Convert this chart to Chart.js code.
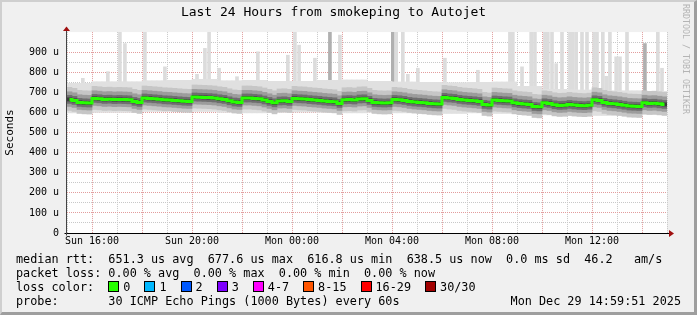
<!DOCTYPE html>
<html>
<head>
<meta charset="utf-8">
<script src="https://cdn.jsdelivr.net/npm/chart.js@4.4.1/dist/chart.umd.min.js"></script>
<style>
  body { margin: 0; background: #fff; }
  #wrap { position: relative; width: 697px; height: 315px; overflow: hidden; }
  #frame { position: absolute; left: 0; top: 0; width: 697px; height: 315px; box-sizing: border-box;
           background: #f0f0f0; border-style: solid; border-width: 2px 3px 3px 2px;
           border-color: #cfcfcf #9e9e9e #9e9e9e #cfcfcf; }
  canvas { position: absolute; left: 0; top: 0; }
  #legend { position: absolute; left: 16px; top: 252px; right: 16px; font: 11.8px "DejaVu Sans Mono", monospace;
            line-height: 14px; color: #000; white-space: pre; }
  #legend .row { position: relative; height: 14px; }
  #legend .right { position: absolute; right: 0; top: 0; }
  .box { display: inline-block; width: 11px; height: 11px; box-sizing: border-box; border: 1px solid #000;
         vertical-align: -1px; margin-right: 4px; }
  .item { margin-right: 14px; }
  #stamp { position: absolute; left: 681px; top: 4px; writing-mode: vertical-rl; font: 8.3px "DejaVu Sans Mono", monospace;
           color: #b4b4b4; line-height: 10px; white-space: nowrap; }
</style>
</head>
<body>
<div id="wrap">
  <div id="frame"></div>
  <canvas id="c" width="697" height="315"></canvas>
  <div id="stamp">RRDTOOL / TOBI OETIKER</div>
  <div id="legend"></div>
</div>
<script>
// x values are minutes after Sun 15:00, one median sample every 12 minutes
const xTickMinutes = [60, 300, 540, 780, 1020, 1260];
const xTickLabels = ['Sun 16:00', 'Sun 20:00', 'Mon 00:00', 'Mon 04:00', 'Mon 08:00', 'Mon 12:00'];
const yTickValues = [0, 100, 200, 300, 400, 500, 600, 700, 800, 900];
const yTickLabels = ['0', '100 u', '200 u', '300 u', '400 u', '500 u', '600 u', '700 u', '800 u', '900 u'];

// median rtt in microseconds
const median = [
  665, 660, 650, 648, 647,
  670, 668, 665, 666, 664, 665, 664, 663, 655, 650,
  672, 670, 668, 666, 663, 662, 660, 658, 656, 655,
  677, 676, 675, 674, 672, 668, 665, 658, 652, 650,
  672, 672, 670, 668, 662, 655, 648, 657, 658, 655,
  670, 668, 667, 664, 662, 660, 657, 655, 653, 645,
  663, 664, 662, 667, 668, 660, 650, 648, 647, 648,
  665, 663, 660, 655, 652, 650, 648, 645, 643, 642,
  675, 672, 670, 665, 662, 660, 658, 655, 640, 637,
  662, 660, 658, 657, 648, 644, 642, 640, 630, 628,
  648, 645, 638, 635, 636, 640, 637, 635, 634, 636,
  663, 660, 650, 645, 643, 640, 636, 632, 631, 630,
  648, 645, 646, 643, 640
];

// faint outer smoke, one value per hour
const outerTop = [745, 753, 753, 758, 760, 765, 758, 760, 755, 755, 760, 762,
                  755, 752, 750, 748, 750, 752, 730, 715, 712, 708, 708, 705];
const outerBottom = [598, 600, 600, 605, 608, 605, 600, 598, 600, 602, 600, 598,
                     600, 598, 595, 595, 598, 595, 590, 588, 585, 585, 585, 590];

// darker smoke layers around the median (below / above, us)
const layerDown = [55, 35, 20, 8];
const layerUp = [60, 38, 20, 8];
const layerColors = ['#c6c6c6', '#9c9c9c', '#6e6e6e', '#3a3a3a'];

// single ping outliers
const spikeMinutes = [38, 98, 127, 139, 187, 235, 312, 331, 341, 365, 408, 458, 530, 547, 557,
  595, 631, 655, 782, 790, 806, 818, 842, 907, 986, 1063, 1070, 1092, 1114, 1123,
  1147, 1154, 1164, 1174, 1188, 1207, 1214, 1222, 1236, 1248, 1265, 1272, 1286, 1294, 1303,
  1318, 1327, 1344, 1387, 1418, 1428];
const spikeTops = [770, 803, 1000, 943, 1000, 827, 790, 919, 1000, 820, 778, 902, 885, 1000, 935,
  870, 1000, 985, 1000, 1000, 1000, 790, 820, 870, 810, 1000, 1000, 827, 1000, 1000,
  1000, 1000, 1000, 843, 1000, 1000, 1000, 1000, 1000, 1000, 1000, 1000, 1000, 780, 1000,
  877, 877, 1000, 943, 1000, 820];
const spikeDark = [0, 0, 0, 0, 0, 0, 0, 0, 0, 0, 0, 0, 0, 0, 0,
  0, 1, 0, 1, 0, 0, 0, 0, 0, 0, 0, 0, 0, 0, 0,
  0, 0, 0, 0, 0, 0, 0, 0, 0, 0, 0, 0, 0, 0, 0,
  0, 0, 0, 1, 0, 0];

const lossLabels = ['0', '1', '2', '3', '4-7', '8-15', '16-29', '30/30'];
const lossColors = ['#26ff00', '#00b8ff', '#0059ff', '#7e00ff', '#ff00ff', '#ff5500', '#ff0000', '#a10000'];

const STEP = 12;
const mono = 'DejaVu Sans Mono';
const RED = '#e29c9c';
const GRAY = '#c8c8c8';

const datasets = [];

datasets.push({
  type: 'line', label: 'median', order: 0,
  data: median.map((v, i) => ({ x: i * STEP + STEP / 2, y: v })),
  borderColor: lossColors[0], borderWidth: 3, pointRadius: 0, stepped: 'middle', fill: false
});

layerDown.forEach((d, k) => {
  datasets.push({
    type: 'bar', label: 'smoke' + k, order: 6 - k, grouped: false,
    data: median.map((v, i) => ({ x: i * STEP + STEP / 2, y: [v - d, v + layerUp[k]] })),
    backgroundColor: layerColors[k], barThickness: 5, borderWidth: 0
  });
});

datasets.push({
  type: 'bar', label: 'outer', order: 8, grouped: false,
  data: median.map((v, i) => ({ x: i * STEP + STEP / 2, y: [outerBottom[Math.floor(i / 5)], outerTop[Math.floor(i / 5)]] })),
  backgroundColor: '#e0e0e0', barThickness: 5, borderWidth: 0
});

datasets.push({
  type: 'bar', label: 'spikes', order: 9, grouped: false,
  data: spikeMinutes.map((t, i) => ({ x: t, y: [640, spikeTops[i]] })),
  backgroundColor: spikeDark.map(d => d ? '#b0b0b0' : '#dcdcdc'), barThickness: 3, borderWidth: 0
});

const framePlugin = {
  id: 'framePlugin',
  beforeDraw(chart) {
    const { ctx, chartArea: a } = chart;
    ctx.save();
    ctx.fillStyle = '#ffffff';
    ctx.fillRect(a.left, a.top, a.right - a.left, a.bottom - a.top);
    ctx.restore();
  },
  afterDraw(chart) {
    const { ctx, chartArea: a } = chart;
    const l = Math.round(a.left) - 0.5, b = Math.round(a.bottom) + 0.5;
    ctx.save();
    ctx.strokeStyle = '#000';
    ctx.lineWidth = 1;
    ctx.beginPath();
    ctx.moveTo(l - 2, b); ctx.lineTo(a.right + 3, b);
    ctx.stroke();
    ctx.strokeStyle = '#444';
    ctx.beginPath();
    ctx.moveTo(l, b + 2); ctx.lineTo(l, a.top - 3);
    ctx.stroke();
    ctx.fillStyle = '#a01010';
    ctx.beginPath();
    ctx.moveTo(l, a.top - 5.5); ctx.lineTo(l - 3.5, a.top - 1); ctx.lineTo(l + 3.5, a.top - 1); ctx.closePath();
    ctx.fill();
    ctx.beginPath();
    ctx.moveTo(a.right + 7, b); ctx.lineTo(a.right + 2, b - 3.5); ctx.lineTo(a.right + 2, b + 3.5); ctx.closePath();
    ctx.fill();
    ctx.restore();
  }
};

new Chart(document.getElementById('c').getContext('2d'), {
  type: 'bar',
  data: { datasets },
  plugins: [framePlugin],
  options: {
    responsive: false,
    animation: false,
    devicePixelRatio: 1,
    layout: { padding: { left: 0, right: 30, top: 0, bottom: 0 } },
    plugins: {
      legend: { display: false },
      tooltip: { enabled: false },
      title: {
        display: true,
        text: 'Last 24 Hours from smokeping to Autojet',
        color: '#000',
        font: { family: mono, size: 13, weight: 'normal', lineHeight: 1.2 },
        padding: { top: 5, bottom: 11.5 }
      }
    },
    scales: {
      x: {
        type: 'linear', min: 0, max: 1440, offset: false,
        afterFit: s => { s.height = 82; },
        ticks: {
          stepSize: 60, maxTicksLimit: 40, autoSkip: false, maxRotation: 0, padding: 2, color: '#000',
          font: { family: mono, size: 10 },
          callback: v => { const k = xTickMinutes.indexOf(v); return k < 0 ? '' : xTickLabels[k]; }
        },
        grid: {
          drawTicks: false, offset: false, lineWidth: 1, borderDash: [1, 1],
          color: c => ((c.tick.value - 60) % 120 === 0 ? RED : GRAY)
        },
        border: { display: false, dash: [1, 1] }
      },
      y: {
        min: 0, max: 1000,
        afterFit: s => { s.width = 67; },
        ticks: {
          stepSize: 50, maxTicksLimit: 40, autoSkip: false, padding: 8, color: '#000',
          font: { family: mono, size: 10 },
          callback: v => {
            if (v >= 1000) return null;
            const k = yTickValues.indexOf(v);
            return k < 0 ? '' : yTickLabels[k];
          }
        },
        grid: {
          drawTicks: false, lineWidth: 1, borderDash: [1, 1],
          color: c => (c.tick.value % 100 === 0 ? RED : GRAY)
        },
        border: { display: false, dash: [1, 1] },
        title: {
          display: true, text: 'Seconds', color: '#000',
          font: { family: mono, size: 11 }, padding: { top: 4, bottom: 0 }
        }
      }
    }
  }
});

// text legend under the graph
const legend = document.getElementById('legend');
const rows = [
  'median rtt:  651.3 us avg  677.6 us max  616.8 us min  638.5 us now  0.0 ms sd  46.2   am/s',
  'packet loss: 0.00 % avg  0.00 % max  0.00 % min  0.00 % now'
];
rows.forEach(t => {
  const r = document.createElement('div');
  r.className = 'row';
  r.textContent = t;
  legend.appendChild(r);
});
const lossRow = document.createElement('div');
lossRow.className = 'row';
lossRow.appendChild(document.createTextNode('loss color:  '));
lossLabels.forEach((lab, i) => {
  const item = document.createElement('span');
  item.className = 'item';
  const box = document.createElement('span');
  box.className = 'box';
  box.style.background = lossColors[i];
  item.appendChild(box);
  item.appendChild(document.createTextNode(lab));
  lossRow.appendChild(item);
});
legend.appendChild(lossRow);
const probeRow = document.createElement('div');
probeRow.className = 'row';
probeRow.textContent = 'probe:       30 ICMP Echo Pings (1000 Bytes) every 60s';
const stamp = document.createElement('span');
stamp.className = 'right';
stamp.textContent = 'Mon Dec 29 14:59:51 2025';
probeRow.appendChild(stamp);
legend.appendChild(probeRow);
</script>
</body>
</html>
